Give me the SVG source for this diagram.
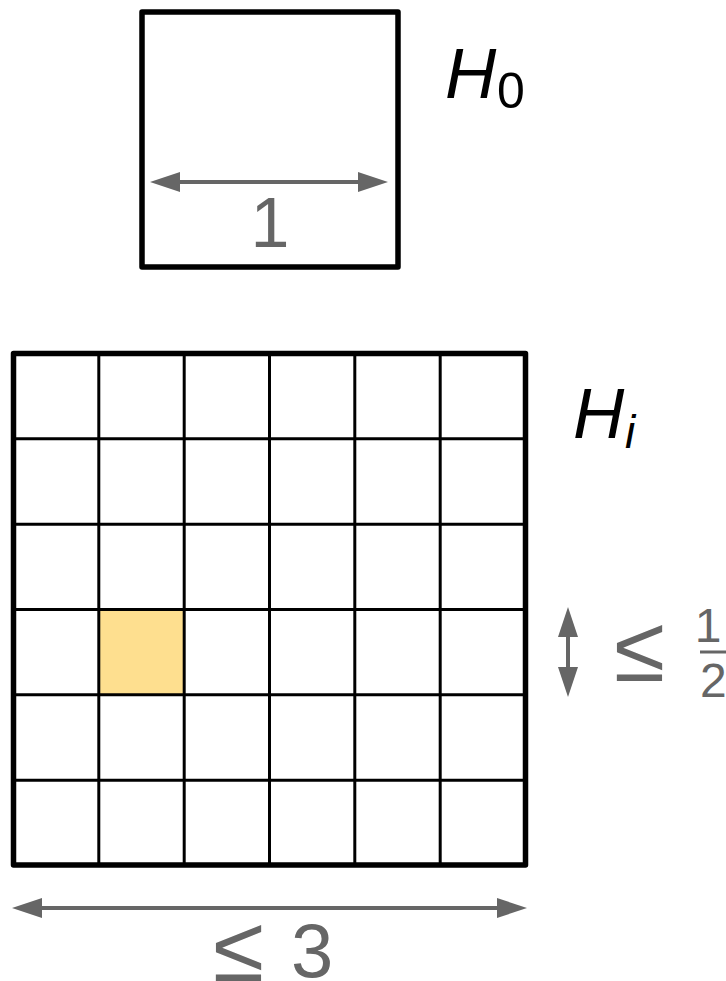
<svg xmlns="http://www.w3.org/2000/svg" width="726" height="981" viewBox="0 0 726 981">
<style>
.box{fill:none;stroke:#000;stroke-width:5.5;stroke-linejoin:round}
.grid{stroke:#000;stroke-width:3;fill:none}
.dim{stroke:#666;stroke-width:4;fill:none}
.lbl{font-family:"Liberation Sans",Arial,sans-serif;fill:#000}
.it{font-style:italic}
.gl{font-family:"Liberation Sans",Arial,sans-serif;fill:#666}
</style>
<defs>
<marker id="arr" markerUnits="userSpaceOnUse" markerWidth="30" markerHeight="20" viewBox="0 0 30 20" refX="4" refY="10" orient="auto-start-reverse">
<path d="M0,0 L30,10 L0,20 z" fill="#666"/>
</marker>
</defs>
<rect width="726" height="981" fill="#fff"/>
<g id="H0">
<rect class="box" x="142" y="12" width="256" height="255"/>
<text class="lbl" x="445" y="98" font-size="71"><tspan class="it">H</tspan><tspan x="497" y="108" font-size="50">0</tspan></text>
</g>
<g id="Hi">
<rect x="98.8" y="609.5" width="85.4" height="85.3" fill="#fedf8f"/>
<g class="grid">
<line x1="98.8" y1="353.5" x2="98.8" y2="865"/>
<line x1="184.2" y1="353.5" x2="184.2" y2="865"/>
<line x1="269.5" y1="353.5" x2="269.5" y2="865"/>
<line x1="354.8" y1="353.5" x2="354.8" y2="865"/>
<line x1="440.2" y1="353.5" x2="440.2" y2="865"/>
<line x1="13.5" y1="438.8" x2="525.5" y2="438.8"/>
<line x1="13.5" y1="524.2" x2="525.5" y2="524.2"/>
<line x1="13.5" y1="609.5" x2="525.5" y2="609.5"/>
<line x1="13.5" y1="694.8" x2="525.5" y2="694.8"/>
<line x1="13.5" y1="780.2" x2="525.5" y2="780.2"/>
</g>
<rect class="box" x="13.5" y="353.5" width="512" height="511.5"/>
<text class="lbl" x="573" y="438" font-size="71"><tspan class="it">H</tspan><tspan class="it" x="625" y="448" font-size="46">i</tspan></text>
</g>
<g id="connectors">
<line class="dim" x1="176" y1="182" x2="362" y2="182" marker-start="url(#arr)" marker-end="url(#arr)"/>
<line class="dim" x1="38" y1="908" x2="501" y2="908" marker-start="url(#arr)" marker-end="url(#arr)"/>
<line class="dim" x1="568" y1="633" x2="568" y2="671" marker-start="url(#arr)" marker-end="url(#arr)"/>
</g>
<g id="labels">
<text class="gl" x="270" y="247" font-size="70" text-anchor="middle">1</text>
<text class="gl" x="213" y="981" font-size="93">≤</text>
<text class="gl" x="291" y="977" font-size="76">3</text>
<text class="gl" x="614" y="681" font-size="93">≤</text>
<text class="gl" x="708" y="642" font-size="48" text-anchor="middle">1</text>
<line x1="700" y1="652" x2="730" y2="652" stroke="#666" stroke-width="3"/>
<text class="gl" x="700" y="697" font-size="48">2</text>
</g>
</svg>
